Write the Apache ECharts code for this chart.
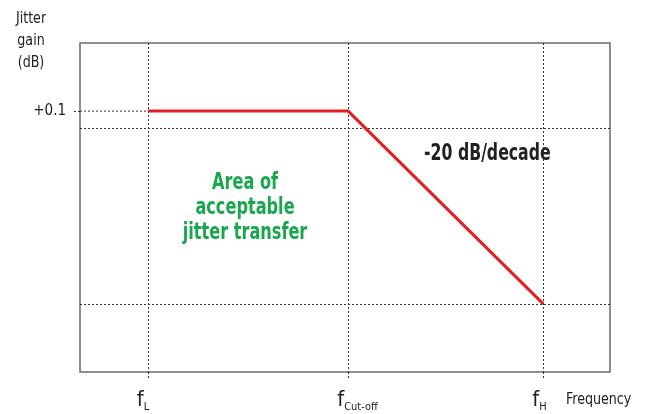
<!DOCTYPE html>
<html>
<head>
<meta charset="utf-8">
<script src="https://cdn.jsdelivr.net/npm/echarts@6/dist/echarts.min.js"></script>
<style>
  html, body { margin: 0; padding: 0; background: #fff; }
  #chart { width: 645px; height: 414px; }
</style>
</head>
<body>
<div id="chart"></div>
<script>
// frequency marks (x in 0..100 plot units), their subscripts
var freqPos = [12.8, 50.6, 87.4];
var freqSub = ['L', 'Cut-off', 'H'];
// jitter gain (plot units 0..100)
var gainX = [12.8, 50.6, 87.4];
var gainY = [79.3, 79.3, 20.7];
// y tick with its label
var yTickPos = [79.3];
var yTickText = ['+0.1'];
// horizontal dotted guides
var guideY = [74.2, 20.7];

var FONT = "'Liberation Sans Narrow', 'DejaVu Sans Condensed', 'Roboto Condensed', sans-serif";
var dotted = { type: [2, 2], color: '#333', width: 1 };

var chart = echarts.init(document.getElementById('chart'));

chart.setOption({
    animation: false,
    grid: {
        left: 80, right: 35, top: 43, bottom: 42,
        outerBoundsMode: 'none',
        show: true,
        borderColor: '#6a6a6a',
        borderWidth: 1.5
    },
    //x轴
    xAxis: {
        type: 'value',
        min: 0, max: 100,
        axisLine: { show: false },
        axisTick: {
            customValues: freqPos,
            length: 7,
            lineStyle: dotted
        },
        splitLine: { show: true, lineStyle: dotted },
        axisLabel: {
            customValues: freqPos,
            margin: 17,
            align: 'center',
            formatter: function (v) {
                var sub = freqSub[freqPos.indexOf(v)];
                // invisible copy of the subscript keeps the "f" just left of the tick
                return '{p|' + sub + '}{f|f}{s|' + sub + '}';
            },
            rich: {
                p: { fontFamily: FONT, fontSize: 11, color: 'transparent', lineHeight: 24, verticalAlign: 'bottom' },
                f: { fontFamily: FONT, fontSize: 22, color: '#222', lineHeight: 24, verticalAlign: 'top' },
                s: { fontFamily: FONT, fontSize: 11, color: '#222', padding: [0, 15, 0, 0], lineHeight: 24, verticalAlign: 'bottom' }
            }
        }
    },
    //y轴
    yAxis: {
        type: 'value',
        min: 0, max: 100,
        axisLine: { show: false },
        splitLine: { show: false },
        axisTick: {
            customValues: yTickPos,
            length: 7,
            lineStyle: dotted
        },
        axisLabel: {
            customValues: yTickPos,
            margin: 14,
            fontFamily: FONT,
            fontSize: 15,
            color: '#222',
            formatter: function (v) {
                return yTickText[yTickPos.indexOf(v)];
            }
        }
    },
    graphic: [
        {
            type: 'text', x: 31, y: 8, scaleX: 0.88,
            style: { text: 'Jitter\ngain\n(dB)', font: '16px ' + FONT, fill: '#222', align: 'center', verticalAlign: 'top', lineHeight: 22 }
        },
        {
            type: 'text', x: 566, y: 392, scaleX: 0.88,
            style: { text: 'Frequency', font: '16px ' + FONT, fill: '#222', verticalAlign: 'top' }
        },
        {
            type: 'text', x: 424, y: 143, scaleX: 0.76,
            style: { text: '-20 dB/decade', font: 'bold 23px ' + FONT, fill: '#222', verticalAlign: 'top' }
        },
        {
            type: 'text', x: 245, y: 171, scaleX: 0.78,
            style: {
                text: 'Area of\nacceptable\njitter transfer',
                font: 'bold 23px ' + FONT, fill: '#1aa64e', align: 'center', verticalAlign: 'top', lineHeight: 25
            }
        }
    ],
    series: [
        {
            type: 'line',
            data: [[0, yTickPos[0]], [freqPos[0], yTickPos[0]]],
            symbol: 'none',
            silent: true,
            lineStyle: dotted
        },
        {
            type: 'line',
            data: gainX.map(function (x, i) { return [x, gainY[i]]; }),
            symbol: 'none',
            z: 5,
            lineStyle: { color: '#e31e24', width: 3 },
            markLine: {
                silent: true,
                symbol: 'none',
                label: { show: false },
                lineStyle: dotted,
                data: guideY.map(function (y) { return { yAxis: y }; })
            }
        }
    ]
});
</script>
</body>
</html>
